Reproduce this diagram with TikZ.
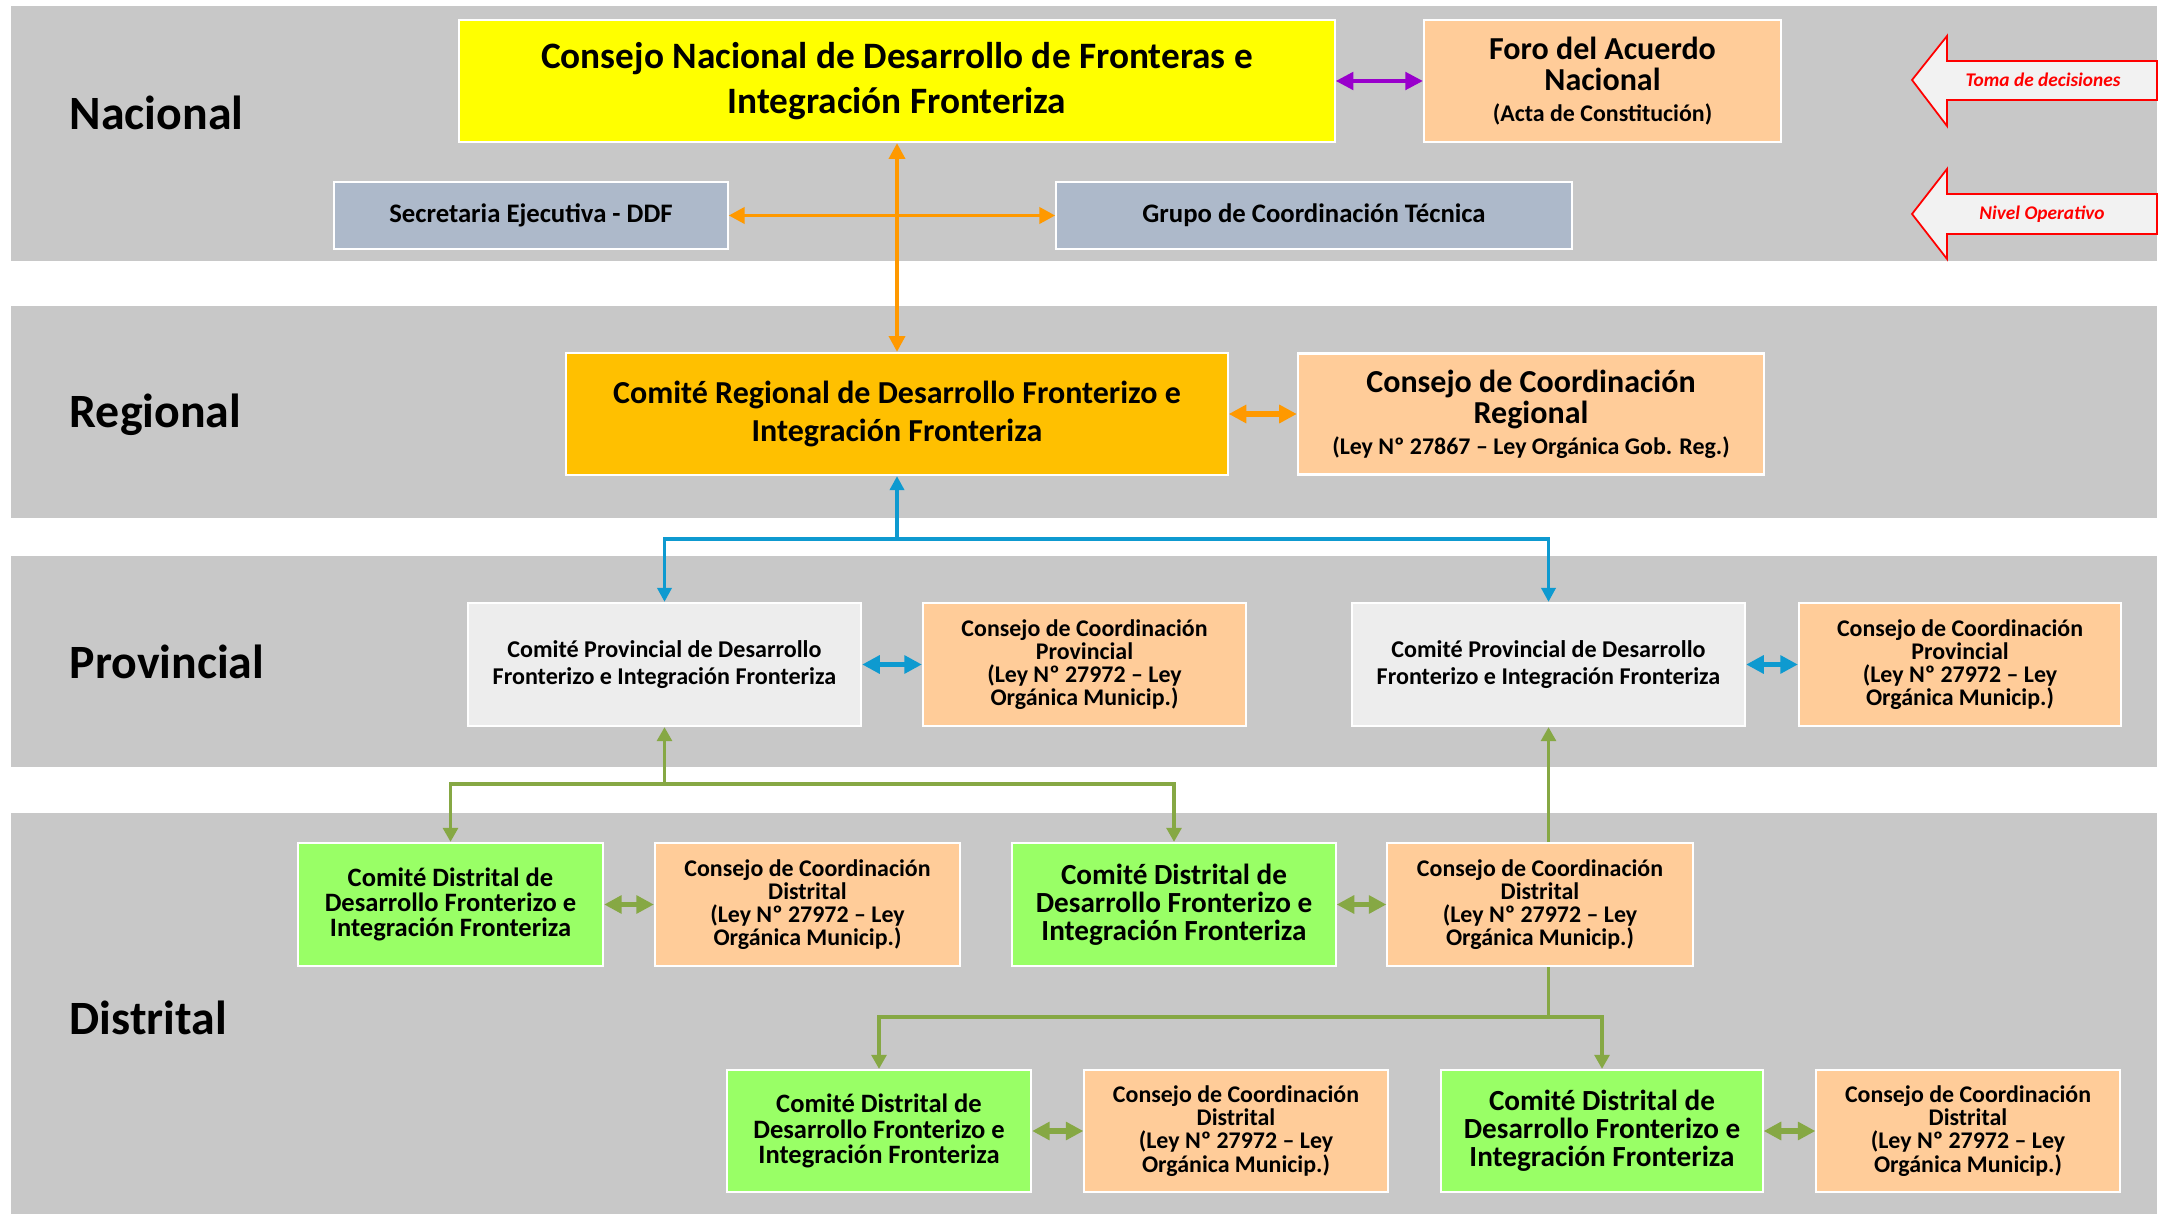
\documentclass[tikz,border=0pt]{standalone}
\usepackage{fontspec}
\setmainfont{Carlito}
\usetikzlibrary{arrows.meta}
\usetikzlibrary{calc}
\usetikzlibrary{positioning}

\definecolor{bandgray}{HTML}{C8C8C8}
\definecolor{cyellow}{HTML}{FFFF00}
\definecolor{cpeach}{HTML}{FFCC99}
\definecolor{cslate}{HTML}{ADB9CA}
\definecolor{cgold}{HTML}{FFC000}
\definecolor{cprov}{HTML}{EDEDED}
\definecolor{cgreen}{HTML}{99FF66}
\definecolor{lorange}{HTML}{FF9900}
\definecolor{lblue}{HTML}{0E9AD0}
\definecolor{lgreen}{HTML}{86A844}
\definecolor{lpurple}{HTML}{9900CC}
\definecolor{arrfill}{HTML}{F2F2F2}

\begin{document}
\begin{tikzpicture}[x=0.01cm,y=-0.01cm,line cap=butt]
\tikzset{box/.style={draw=white,line width=0.6pt,align=center,inner sep=0pt,font=\bfseries}}
\tikzset{fs/.style 2 args={font=\bfseries\fontsize{#1}{#2}\selectfont}}
\tikzset{lvl/.style={anchor=west,inner sep=0pt,font=\bfseries\fontsize{13.6}{16}\selectfont}}
\tikzset{orangeline/.style={draw=lorange,line width=1.1pt}}
\tikzset{blueline/.style={draw=lblue,line width=1.1pt,-{Triangle[length=4pt,width=4pt]}}}
\tikzset{greenline/.style={draw=lgreen,line width=1pt,-{Triangle[length=4pt,width=4.2pt]}}}
\tikzset{dbl/.style={line width=1.5pt,{Triangle[length=5pt,width=5pt]}-{Triangle[length=5pt,width=5pt]}}}
\tikzset{decision/.style={draw=red,fill=arrfill,line width=0.5pt}}
\tikzset{declabel/.style={text=red,font=\bfseries\itshape\fontsize{5.5}{6}\selectfont}}

\useasboundingbox[fill=white] (0,0) rectangle (2164,1216);

% bands
\fill[bandgray] (11,6) rectangle (2157,261);
\fill[bandgray] (11,306) rectangle (2157,518);
\fill[bandgray] (11,556) rectangle (2157,767);
\fill[bandgray] (11,813) rectangle (2157,1214);

\node[lvl] (lnac) at (69,113) {Nacional};
\node[lvl] (lreg) at (69,415) {Regional};
\node[lvl] (lprov) at (69,662) {Provincial};
\node[lvl] (ldist) at (69,1018) {Distrital};

% nacional
\node[box,fill=cyellow,minimum width=8.75cm,minimum height=1.22cm,fs={10.6}{13}] (cnac) at (897,81)
  {Consejo Nacional de Desarrollo de Fronteras e\\Integración Fronteriza};
\node[box,fill=cpeach,minimum width=3.57cm,minimum height=1.22cm,fs={9.1}{8.8}] (foro) at (1602.5,81)
  {Foro del Acuerdo\\Nacional\\{\fontsize{6.8}{8}\selectfont (Acta de Constitución)}};
\node[box,fill=cslate,minimum width=3.93cm,minimum height=0.67cm,fs={7.6}{8}] (secr) at (531,215.5)
  {Secretaria Ejecutiva - DDF};
\node[box,fill=cslate,minimum width=5.15cm,minimum height=0.67cm,fs={7.6}{8}] (grupo) at (1314,215.5)
  {Grupo de Coordinación Técnica};

% regional
\node[box,fill=cgold,minimum width=6.61cm,minimum height=1.22cm,fs={9.1}{10.6}] (creg) at (897,414)
  {Comité Regional de Desarrollo Fronterizo e\\Integración Fronteriza};
\node[box,fill=cpeach,minimum width=4.66cm,minimum height=1.21cm,fs={9.1}{8.8}] (ccreg) at (1531,414)
  {Consejo de Coordinación\\Regional\\{\fontsize{6.8}{7.4}\selectfont (Ley Nº 27867 – Ley Orgánica Gob. Reg.)}};

% provincial
\node[box,fill=cprov,minimum width=3.93cm,minimum height=1.23cm,fs={6.85}{7.9}] (prov1) at (664.5,664.5)
  {Comité Provincial de Desarrollo\\Fronterizo e Integración Fronteriza};
\node[box,fill=cpeach,minimum width=3.23cm,minimum height=1.23cm,fs={6.8}{6.6}] (cprov1) at (1084.5,664.5)
  {Consejo de Coordinación\\Provincial\\(Ley Nº 27972 – Ley\\Orgánica Municip.)};
\node[box,fill=cprov,minimum width=3.93cm,minimum height=1.23cm,fs={6.85}{7.9}] (prov2) at (1548.5,664.5)
  {Comité Provincial de Desarrollo\\Fronterizo e Integración Fronteriza};
\node[box,fill=cpeach,minimum width=3.22cm,minimum height=1.23cm,fs={6.8}{6.6}] (cprov2) at (1960,664.5)
  {Consejo de Coordinación\\Provincial\\(Ley Nº 27972 – Ley\\Orgánica Municip.)};

% distrital
\node[box,fill=cgreen,minimum width=3.05cm,minimum height=1.23cm,fs={7.55}{7.2}] (dist1) at (450.5,904.5)
  {Comité Distrital de\\Desarrollo Fronterizo e\\Integración Fronteriza};
\node[box,fill=cpeach,minimum width=3.05cm,minimum height=1.23cm,fs={6.8}{6.6}] (cdist1) at (807.5,904.5)
  {Consejo de Coordinación\\Distrital\\(Ley Nº 27972 – Ley\\Orgánica Municip.)};
\node[box,fill=cgreen,minimum width=3.23cm,minimum height=1.23cm,fs={8.3}{8}] (dist2) at (1174,904.5)
  {Comité Distrital de\\Desarrollo Fronterizo e\\Integración Fronteriza};
\node[box,fill=cpeach,minimum width=3.05cm,minimum height=1.23cm,fs={6.8}{6.6}] (cdist2) at (1540,904.5)
  {Consejo de Coordinación\\Distrital\\(Ley Nº 27972 – Ley\\Orgánica Municip.)};
\node[box,fill=cgreen,minimum width=3.04cm,minimum height=1.22cm,fs={7.55}{7.2}] (dist3) at (879,1131)
  {Comité Distrital de\\Desarrollo Fronterizo e\\Integración Fronteriza};
\node[box,fill=cpeach,minimum width=3.03cm,minimum height=1.22cm,fs={6.8}{6.6}] (cdist3) at (1236,1131)
  {Consejo de Coordinación\\Distrital\\(Ley Nº 27972 – Ley\\Orgánica Municip.)};
\node[box,fill=cgreen,minimum width=3.21cm,minimum height=1.22cm,fs={8.3}{8}] (dist4) at (1602,1131)
  {Comité Distrital de\\Desarrollo Fronterizo e\\Integración Fronteriza};
\node[box,fill=cpeach,minimum width=3.03cm,minimum height=1.22cm,fs={6.8}{6.6}] (cdist4) at (1968,1131)
  {Consejo de Coordinación\\Distrital\\(Ley Nº 27972 – Ley\\Orgánica Municip.)};

% level arrows
\draw[decision] (1912,80) -- (1947,36) -- (1947,61) -- (2157,61) -- (2157,100) -- (1947,100) -- (1947,126) -- cycle;
\node[declabel] (toma) at (2043,80) {Toma de decisiones};
\draw[decision] (1912,214) -- (1947,169) -- (1947,194) -- (2157,194) -- (2157,234) -- (1947,234) -- (1947,259) -- cycle;
\node[declabel] (nivel) at (2042,214) {Nivel Operativo};

% connectors
\draw[orangeline,{Triangle[length=4.5pt,width=4.5pt]}-{Triangle[length=4.5pt,width=4.5pt]}] (cnac) -- (creg);
\draw[orangeline,{Triangle[length=4.5pt,width=4.5pt]}-{Triangle[length=4.5pt,width=4.5pt]}] (secr) -- (grupo);
\draw[dbl,draw=lpurple,line width=1pt] (cnac) -- (foro);
\draw[dbl,draw=lorange] (creg) -- (ccreg);

\coordinate (bj) at (897,539);
\draw[blueline] (bj) -- (creg.south);
\draw[blueline] (bj) -| (prov1.north);
\draw[blueline] (bj) -| (prov2.north);
\draw[dbl,draw=lblue] (prov1) -- (cprov1);
\draw[dbl,draw=lblue] (prov2) -- (cprov2);

\coordinate (gj1) at (664.5,784);
\draw[greenline] (gj1) -- (prov1.south);
\draw[greenline] (gj1) -| (dist1.north);
\draw[greenline] (gj1) -| (dist2.north);
\coordinate (gj2) at (1548.5,1017);
\draw[greenline] (prov2.south |- cdist2.north) -- (prov2.south);
\draw[greenline,-] (prov2.south |- cdist2.south) -- (gj2);
\draw[greenline] (gj2) -| (dist3.north);
\draw[greenline] (gj2) -| (dist4.north);
\draw[dbl,draw=lgreen] (dist1) -- (cdist1);
\draw[dbl,draw=lgreen] (dist2) -- (cdist2);
\draw[dbl,draw=lgreen] (dist3) -- (cdist3);
\draw[dbl,draw=lgreen] (dist4) -- (cdist4);
\end{tikzpicture}
\end{document}
